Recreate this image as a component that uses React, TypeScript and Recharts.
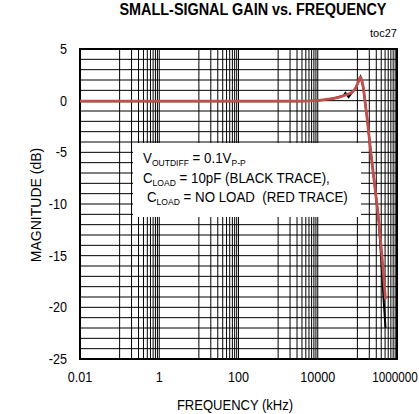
import { LineChart, Line, XAxis, YAxis, ReferenceLine, ReferenceArea } from 'recharts'

// frequency in kHz, gain in dB
const redFreq = [0.01, 0.1, 1, 10, 100, 1000, 3000, 8000, 15000, 25000, 40000, 55000, 75000, 90000, 105000, 120000, 140000, 160000, 180000, 215000, 280000, 350000, 430000, 513000]
const redGain = [-0.05, -0.05, -0.05, -0.05, -0.05, -0.05, -0.05, 0.0, 0.1, 0.22, 0.42, 0.6, 0.85, 1.2, 1.8, 2.3, 1.35, -0.4, -2.0, -4.8, -8.5, -11.8, -15.6, -19.2]

const blackFreq = [0.01, 0.1, 1, 10, 100, 1000, 3000, 8000, 15000, 25000, 40000, 45000, 50000, 60000, 75000, 90000, 105000, 120000, 140000, 160000, 180000, 215000, 280000, 350000, 464000, 513000]
const blackGain = [-0.05, -0.05, -0.05, -0.05, -0.05, -0.05, -0.05, 0.0, 0.1, 0.22, 0.42, 0.5, 0.75, 0.35, 0.85, 1.2, 1.8, 2.3, 1.35, -0.4, -2.0, -4.8, -8.5, -11.8, -19.5, -22]

const xTicks = [0.01, 1, 100, 10000, 1000000]
const yTicks = [-25, -20, -15, -10, -5, 0, 5]

const redData = redFreq.map((f, i) => ({ f, g: redGain[i] }))
const blackData = blackFreq.map((f, i) => ({ f, g: blackGain[i] }))

// grid: every 1 dB, and 10..90 x every second decade start
const hGrid: number[] = []
for (let v = -24; v <= 4; v++) hGrid.push(v)
const vGrid: number[] = []
for (const base of [0.01, 1, 100, 10000]) {
  for (let k = 1; k <= 9; k++) vGrid.push(base * 10 * k)
  vGrid.push(base * 100)
}

const font = 'Arial, "Liberation Sans", sans-serif'
const sub = { fontSize: 9, verticalAlign: -3 } as const
const narrow = 0.9

const XTick = ({ x, y, payload }: any) => {
  // last label sits on the window edge, squeeze it a little so it stays inside
  const last = payload.value === 1000000
  const sx = last ? 0.84 : narrow
  const tx = last ? x - 2 : x
  return (
    <text transform={`translate(${tx},${y}) scale(${sx},1)`} textAnchor="middle" dy="0.71em" fontSize={14} fontFamily={font} fill="#000">
      {String(payload.value)}
    </text>
  )
}

const YTick = ({ x, y, payload }: any) => (
  <text transform={`translate(${x},${y}) scale(${narrow},1)`} textAnchor="end" dy="0.35em" fontSize={14} fontFamily={font} fill="#000">
    {String(payload.value)}
  </text>
)

export default function App() {
  return (
    <div style={{ position: 'absolute', left: 0, top: 0, width: 419, height: 414, background: '#fff', fontFamily: font }}>
      <div style={{ position: 'absolute', left: 253, top: 1, transform: `translateX(-50%) scaleX(${narrow})`, whiteSpace: 'nowrap', fontWeight: 'bold', fontSize: 16 }}>
        SMALL-SIGNAL GAIN vs. FREQUENCY
      </div>
      <div style={{ position: 'absolute', left: 370, top: 27, fontSize: 11 }}>toc27</div>
      <LineChart width={419} height={414} margin={{ top: 49, right: 22, bottom: 25, left: 0 }}>
        <XAxis
          dataKey="f"
          type="number"
          scale="log"
          domain={[0.01, 1000000]}
          ticks={xTicks}
          allowDataOverflow
          axisLine={false}
          tickLine={false}
          tickSize={0}
          tickMargin={13}
          height={30}
          tick={<XTick />}
          interval={0}
        />
        <YAxis
          type="number"
          domain={[-25, 5]}
          ticks={yTicks}
          allowDataOverflow
          axisLine={false}
          tickLine={false}
          tickSize={0}
          tickMargin={13}
          width={80}
          tick={<YTick />}
          interval={0}
        />
        {hGrid.map((v) => (
          <ReferenceLine key={'h' + v} y={v} stroke="#000" strokeWidth={1} />
        ))}
        {vGrid.map((v) => (
          <ReferenceLine key={'v' + v} x={v} stroke="#000" strokeWidth={1} />
        ))}
        <ReferenceArea x1={0.01} x2={1000000} y1={-25} y2={5} fill="none" stroke="#000" strokeWidth={2} />
        <Line data={blackData} dataKey="g" stroke="#000" strokeWidth={2} dot={false} type="linear" isAnimationActive={false} />
        <Line data={redData} dataKey="g" stroke="#c0504d" strokeWidth={2.8} dot={false} type="monotone" isAnimationActive={false} />
      </LineChart>
      <div style={{ position: 'absolute', left: 133, top: 143, width: 228, height: 74, background: '#fff', fontSize: 14 }}>
        <div style={{ position: 'absolute', left: 10, top: 7, lineHeight: '16px', whiteSpace: 'nowrap', transform: 'scaleX(0.95)', transformOrigin: 'left' }}>
          V<span style={sub}>OUTDIFF</span> = 0.1V<span style={sub}>P-P</span>
        </div>
        <div style={{ position: 'absolute', left: 10, top: 27, lineHeight: '16px', whiteSpace: 'nowrap', transform: 'scaleX(0.95)', transformOrigin: 'left' }}>
          C<span style={sub}>LOAD</span> = 10pF (BLACK TRACE),
        </div>
        <div style={{ position: 'absolute', left: 14, top: 46, lineHeight: '16px', whiteSpace: 'nowrap', transform: 'scaleX(0.95)', transformOrigin: 'left' }}>
          C<span style={sub}>LOAD</span> = NO LOAD&nbsp; (RED TRACE)
        </div>
      </div>
      <div style={{ position: 'absolute', left: 36, top: 205, transform: 'translate(-50%, -50%) rotate(-90deg)', fontSize: 14, whiteSpace: 'nowrap' }}>
        MAGNITUDE (dB)
      </div>
      <div style={{ position: 'absolute', left: 235, top: 405, transform: `translate(-50%, -50%) scaleX(0.93)`, fontSize: 14, whiteSpace: 'nowrap' }}>
        FREQUENCY (kHz)
      </div>
    </div>
  )
}
